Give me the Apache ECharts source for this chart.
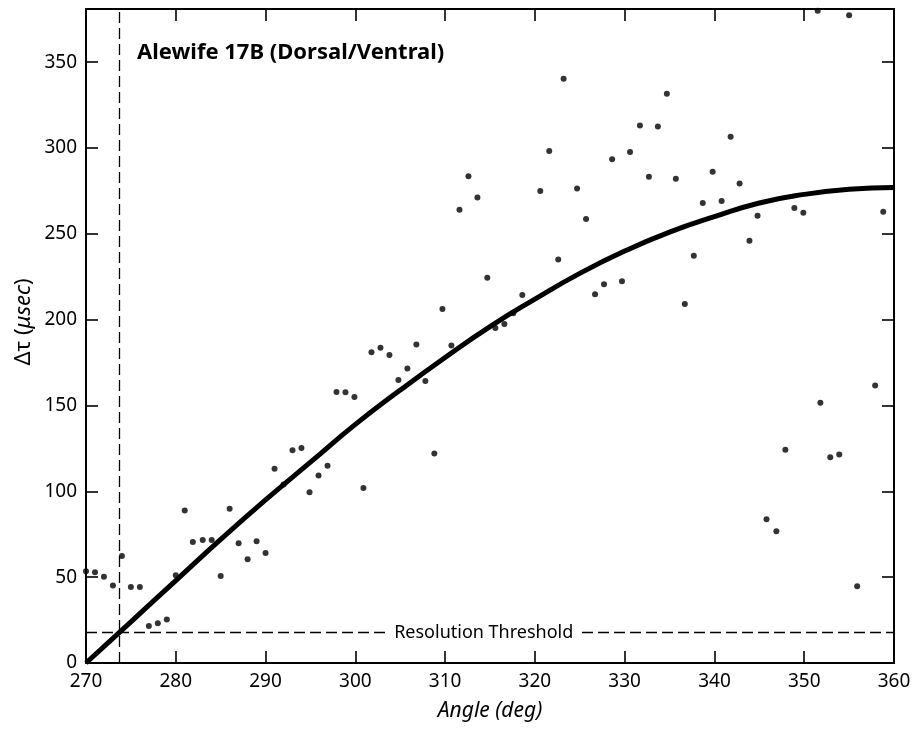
<!DOCTYPE html>
<html>
<head>
<meta charset="utf-8">
<script src="https://cdn.jsdelivr.net/npm/echarts@6/dist/echarts.min.js"></script>
<style>
html,body{margin:0;padding:0;background:#fff;}
#c{width:917px;height:730px;}
</style>
</head>
<body>
<div id="c"></div>
<script>
// Measured points: angle (deg) and delta tau (usec)
const pointAngles = [270.0,271.0,272.0,273.0,274.0,275.0,276.0,277.0,278.0,279.0,280.0,281.0,281.9,283.0,284.0,285.0,286.0,287.0,288.0,289.0,290.0,291.0,292.0,293.0,294.0,294.9,295.9,296.9,297.9,298.9,299.9,300.9,301.8,302.8,303.8,304.8,305.8,306.8,307.8,308.8,309.7,310.7,311.6,312.6,313.6,314.7,315.6,316.6,317.6,318.6,320.6,321.6,322.6,323.2,324.7,325.7,326.7,327.7,328.6,329.7,330.6,331.7,332.7,333.7,334.7,335.7,336.7,337.7,338.7,339.8,340.8,341.8,342.8,343.9,344.8,345.8,346.9,347.9,348.9,349.9,351.5,351.8,352.9,353.9,355.0,355.9,357.9,358.8];
const pointValues = [53.4,52.9,50.3,45.1,62.4,44.3,44.3,21.5,23.1,25.3,51.1,88.8,70.5,71.7,71.7,50.7,89.8,69.8,60.4,70.9,64.1,113.1,104.0,124.0,125.2,99.5,109.3,114.9,157.9,157.7,154.9,101.9,181.0,183.7,179.4,164.9,171.5,185.5,164.3,122.1,206.3,184.9,264.0,283.5,271.2,224.5,195.2,197.5,203.8,214.4,274.9,298.3,235.1,340.3,276.5,258.6,214.8,220.7,293.4,222.4,297.7,313.2,283.3,312.5,331.7,282.1,209.2,237.2,268.0,286.2,269.1,306.6,279.4,246.0,260.6,83.8,76.8,124.2,265.0,262.3,380.0,151.6,119.9,121.5,377.4,44.7,161.6,262.9];

// Fitted curve, every 5 degrees
const curveAngles = [270,275,280,285,290,295,300,305,310,315,320,325,330,335,340,345,350,355,360];
const curveValues = [0,24,48,72,95,117,139,159,178,196,212,227,240,251,260,268,273,276,277];

// Reference lines
const cutoffAngle = 273.7;
const thresholdValue = 17.7;

// Axis settings
const xMin = 270, xMax = 360, xStep = 10;
const yMin = 0, yMax = 381, yStep = 50;

const titleText = 'Alewife 17B (Dorsal/Ventral)';
const xName = 'Angle (deg)';
const thresholdText = 'Resolution Threshold';

const FONT = '"Noto Sans", "Open Sans", sans-serif';

const scatterData = pointAngles.map((a, i) => [a, pointValues[i]]);
const curveData = curveAngles.map((a, i) => [a, curveValues[i]]);

const chart = echarts.init(document.getElementById('c'), null, {renderer: 'canvas'});

const axisLineStyle = {show: true, onZero: false, lineStyle: {color: '#000', width: 2}};
const tickStyle = {show: true, inside: true, length: 12, lineStyle: {color: '#000', width: 1.6}};

const option = {
  backgroundColor: '#fff',
  animation: false,
  grid: {left: 86, right: 23, top: 9, bottom: 67, containLabel: false},
  xAxis: [
    {
      type: 'value', min: xMin, max: xMax, interval: xStep, position: 'bottom',
      axisLine: axisLineStyle, axisTick: tickStyle, splitLine: {show: false},
      axisLabel: {color: '#000', fontSize: 19, fontFamily: FONT, margin: 9},
      name: xName, nameLocation: 'middle', nameGap: 38,
      nameTextStyle: {color: '#000', fontSize: 21, fontStyle: 'italic', fontFamily: FONT}
    },
    {
      type: 'value', min: xMin, max: xMax, interval: xStep, position: 'top',
      axisLine: axisLineStyle, axisTick: tickStyle, splitLine: {show: false},
      axisLabel: {show: false}
    }
  ],
  yAxis: [
    {
      type: 'value', min: yMin, max: yMax, interval: yStep, position: 'left',
      axisLine: axisLineStyle, axisTick: tickStyle, splitLine: {show: false},
      axisLabel: {color: '#000', fontSize: 19, fontFamily: FONT, margin: 9,
        formatter: v => (v % yStep === 0 ? String(v) : '')}
    },
    {
      type: 'value', min: yMin, max: yMax, interval: yStep, position: 'right',
      axisLine: axisLineStyle, axisTick: tickStyle, splitLine: {show: false},
      axisLabel: {show: false}
    }
  ],
  series: [
    {
      type: 'line', data: curveData, smooth: 0.5, showSymbol: false, symbol: 'none',
      lineStyle: {color: '#000', width: 5}, z: 3, silent: true,
      markLine: {
        silent: true, symbol: ['none', 'none'],
        lineStyle: {color: '#000', width: 1.3, type: [11, 5]},
        label: {show: false},
        data: [
          {xAxis: cutoffAngle},
          {yAxis: thresholdValue}
        ]
      }
    },
    {
      type: 'scatter', data: scatterData, symbol: 'circle', symbolSize: 6,
      itemStyle: {color: '#000'}, z: 4, silent: true, clip: false
    }
  ]
};
chart.setOption(option);

const midPix = chart.convertToPixel({xAxisIndex: 0, yAxisIndex: 0}, [314.3, thresholdValue]);

chart.setOption({
  graphic: [
    {
      type: 'text', x: 137, y: 53, z: 10,
      style: {text: titleText, fill: '#000', font: 'bold 22px ' + FONT,
        align: 'left', verticalAlign: 'middle', textAlign: 'left', textVerticalAlign: 'middle'}
    },
    {
      type: 'text', x: 24, y: 322, rotation: Math.PI / 2, z: 10,
      style: {
        text: '{n|Δτ (}{i|μsec}{n|)}',
        align: 'center', verticalAlign: 'middle', textAlign: 'center', textVerticalAlign: 'middle',
        fill: '#000',
        rich: {
          n: {fontSize: 22, fontFamily: FONT, fill: '#000', color: '#000'},
          i: {fontSize: 22, fontFamily: FONT, fontStyle: 'italic', fill: '#000', color: '#000'}
        }
      }
    },
    {
      type: 'text', x: midPix[0], y: midPix[1], z: 10,
      style: {text: thresholdText, fill: '#000', font: '18px ' + FONT,
        align: 'center', verticalAlign: 'middle', textAlign: 'center', textVerticalAlign: 'middle',
        backgroundColor: '#fff', padding: [0, 6]}
    }
  ]
});
</script>
</body>
</html>
